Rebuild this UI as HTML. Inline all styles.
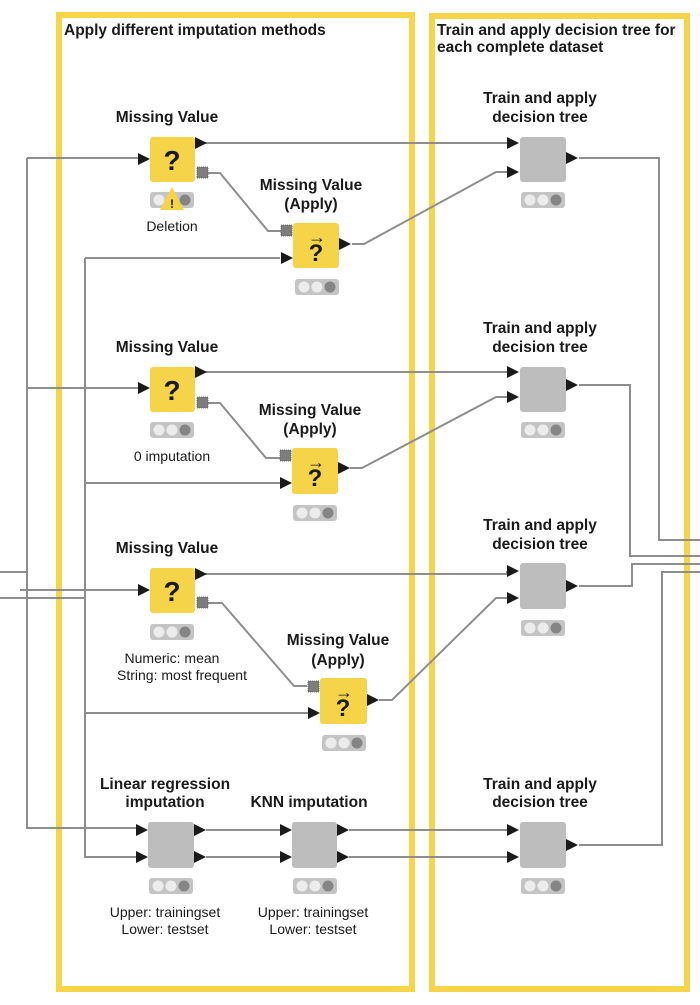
<!DOCTYPE html>
<html><head><meta charset="utf-8"><style>
html,body{margin:0;padding:0;background:#fff;}
svg{display:block;}
text{font-family:"Liberation Sans",Arial,sans-serif;fill:#1a1a1a;}
.b{font-weight:bold;font-size:15.5px;}
.n{font-size:14px;}
.t{font-weight:bold;font-size:15.5px;}
.q{font-weight:bold;font-size:28px;}
.qa{font-weight:bold;font-size:24px;}
.ar{font-weight:bold;font-size:18px;}
</style></head><body>
<svg width="700" height="1005" viewBox="0 0 700 1005" xmlns="http://www.w3.org/2000/svg">
<defs>
<g id="st"><rect x="0" y="0" width="44" height="16" rx="3" fill="#c4c4c4"/><circle cx="9" cy="8" r="5.5" fill="#ececec"/><circle cx="22" cy="8" r="5.5" fill="#ececec"/><circle cx="35" cy="8" r="5.5" fill="#858585"/></g>
<path id="tri" d="M0,-6 L12,0 L0,6 Z" fill="#1a1a1a"/>
<rect id="gp" x="0" y="0" width="11" height="11" fill="#7d7d7d" stroke="#555" stroke-width="0.8" stroke-dasharray="1,1"/>
</defs>

<rect x="59" y="15" width="353" height="974" fill="none" stroke="#f6d54a" stroke-width="6"/>
<rect x="432" y="16" width="255" height="973" fill="none" stroke="#f6d54a" stroke-width="6"/>
<text class="t" x="64" y="35">Apply different imputation methods</text>
<text class="t" x="437" y="35">Train and apply decision tree for</text>
<text class="t" x="437" y="52">each complete dataset</text>

<g fill="none" stroke="#8e8e8e" stroke-width="2">
<path d="M0,572 H27 M27,158 V828 H136"/>
<path d="M0,598 H85 M85,258 V857 H136"/>
<path d="M27,158 H138"/>
<path d="M85,258 H280"/>
<path d="M27,388 H138"/>
<path d="M85,483 H280"/>
<path d="M20,590 H138"/>
<path d="M85,713 H308"/>
<path d="M205,143 H507"/>
<path d="M208,173 H220 L268,231 H281"/>
<path d="M352,244 H364 L496,172 H507"/>
<path d="M205,372 H507"/>
<path d="M208,403 H220 L266,458 H280"/>
<path d="M350,468 H362 L496,397 H507"/>
<path d="M205,574 H507 L507,571"/>
<path d="M208,603 H222 L294,686 H307"/>
<path d="M379,700 H392 L496,598 H507"/>
<path d="M206,830 H280 M206,857 H280"/>
<path d="M349,830 H507 M349,857 H507"/>
<path d="M579,158 H659 V540 H700"/>
<path d="M579,385 H630 V556 H700"/>
<path d="M579,586 H632 V564 H700"/>
<path d="M579,845 H662 V572 H700"/>
</g>

<text class="b" x="167" y="122" text-anchor="middle">Missing Value</text>
<rect x="150" y="137" width="45" height="45" rx="3" fill="#f5d44a"/>
<text class="q" x="172" y="170" text-anchor="middle">?</text>
<use href="#tri" x="138" y="159"/><use href="#tri" x="195" y="143"/>
<use href="#gp" x="197" y="167"/>
<use href="#st" x="150" y="192"/>
<path d="M172,187 L184,210 L160,210 Z" fill="#f5d44a"/><text x="172" y="208" text-anchor="middle" style="font-weight:bold;font-size:12px">!</text>
<text class="n" x="172" y="231" text-anchor="middle">Deletion</text>

<text class="b" x="311" y="190" text-anchor="middle">Missing Value</text>
<text class="b" x="311" y="209" text-anchor="middle">(Apply)</text>
<rect x="293" y="223" width="46" height="45" rx="3" fill="#f5d44a"/>
<text class="qa" x="316" y="261" text-anchor="middle">?</text>
<text class="ar" x="317" y="243" text-anchor="middle">→</text>
<use href="#tri" x="281" y="258"/><use href="#tri" x="339" y="244"/>
<use href="#gp" x="281" y="225"/>
<use href="#st" x="295" y="279"/>

<text class="b" x="167" y="352" text-anchor="middle">Missing Value</text>
<rect x="150" y="367" width="45" height="45" rx="3" fill="#f5d44a"/>
<text class="q" x="172" y="400" text-anchor="middle">?</text>
<use href="#tri" x="138" y="388"/><use href="#tri" x="195" y="372"/>
<use href="#gp" x="197" y="397"/>
<use href="#st" x="150" y="422"/>
<text class="n" x="172" y="461" text-anchor="middle">0 imputation</text>

<text class="b" x="310" y="415" text-anchor="middle">Missing Value</text>
<text class="b" x="310" y="434" text-anchor="middle">(Apply)</text>
<rect x="292" y="448" width="46" height="46" rx="3" fill="#f5d44a"/>
<text class="qa" x="315" y="486" text-anchor="middle">?</text>
<text class="ar" x="316" y="468" text-anchor="middle">→</text>
<use href="#tri" x="280" y="483"/><use href="#tri" x="338" y="468"/>
<use href="#gp" x="280" y="450"/>
<use href="#st" x="293" y="505"/>

<text class="b" x="167" y="553" text-anchor="middle">Missing Value</text>
<rect x="150" y="568" width="45" height="45" rx="3" fill="#f5d44a"/>
<text class="q" x="172" y="601" text-anchor="middle">?</text>
<use href="#tri" x="138" y="590"/><use href="#tri" x="195" y="574"/>
<use href="#gp" x="197" y="597"/>
<use href="#st" x="150" y="624"/>
<text class="n" x="172" y="663" text-anchor="middle">Numeric: mean</text>
<text class="n" x="182" y="680" text-anchor="middle">String: most frequent</text>

<text class="b" x="338" y="645" text-anchor="middle">Missing Value</text>
<text class="b" x="338" y="665" text-anchor="middle">(Apply)</text>
<rect x="320" y="678" width="47" height="46" rx="3" fill="#f5d44a"/>
<text class="qa" x="343" y="716" text-anchor="middle">?</text>
<text class="ar" x="344" y="698" text-anchor="middle">→</text>
<use href="#tri" x="308" y="713"/><use href="#tri" x="367" y="700"/>
<use href="#gp" x="308" y="681"/>
<use href="#st" x="322" y="735"/>

<text class="b" x="165" y="789" text-anchor="middle">Linear regression</text>
<text class="b" x="165" y="807" text-anchor="middle">imputation</text>
<rect x="148" y="822" width="46" height="46" rx="3" fill="#bdbdbd"/>
<use href="#tri" x="136" y="830"/><use href="#tri" x="136" y="857"/>
<use href="#tri" x="194" y="830"/><use href="#tri" x="194" y="857"/>
<use href="#st" x="149" y="878"/>
<text class="n" x="165" y="917" text-anchor="middle">Upper: trainingset</text>
<text class="n" x="165" y="934" text-anchor="middle">Lower: testset</text>

<text class="b" x="309" y="807" text-anchor="middle">KNN imputation</text>
<rect x="292" y="822" width="45" height="46" rx="3" fill="#bdbdbd"/>
<use href="#tri" x="280" y="830"/><use href="#tri" x="280" y="857"/>
<use href="#tri" x="337" y="830"/><use href="#tri" x="337" y="857"/>
<use href="#st" x="293" y="878"/>
<text class="n" x="313" y="917" text-anchor="middle">Upper: trainingset</text>
<text class="n" x="313" y="934" text-anchor="middle">Lower: testset</text>

<text class="b" x="540" y="103" text-anchor="middle">Train and apply</text>
<text class="b" x="540" y="122" text-anchor="middle">decision tree</text>
<rect x="520" y="137" width="46" height="45" rx="3" fill="#bdbdbd"/>
<use href="#tri" x="507" y="143"/><use href="#tri" x="507" y="172"/><use href="#tri" x="566" y="158"/>
<use href="#st" x="521" y="192"/>

<text class="b" x="540" y="333" text-anchor="middle">Train and apply</text>
<text class="b" x="540" y="352" text-anchor="middle">decision tree</text>
<rect x="520" y="367" width="46" height="45" rx="3" fill="#bdbdbd"/>
<use href="#tri" x="507" y="372"/><use href="#tri" x="507" y="397"/><use href="#tri" x="566" y="385"/>
<use href="#st" x="521" y="422"/>

<text class="b" x="540" y="530" text-anchor="middle">Train and apply</text>
<text class="b" x="540" y="549" text-anchor="middle">decision tree</text>
<rect x="520" y="563" width="46" height="46" rx="3" fill="#bdbdbd"/>
<use href="#tri" x="507" y="571"/><use href="#tri" x="507" y="598"/><use href="#tri" x="566" y="586"/>
<use href="#st" x="521" y="620"/>

<text class="b" x="540" y="789" text-anchor="middle">Train and apply</text>
<text class="b" x="540" y="807" text-anchor="middle">decision tree</text>
<rect x="520" y="822" width="46" height="46" rx="3" fill="#bdbdbd"/>
<use href="#tri" x="507" y="830"/><use href="#tri" x="507" y="857"/><use href="#tri" x="566" y="845"/>
<use href="#st" x="521" y="878"/>
</svg>
</body></html>
